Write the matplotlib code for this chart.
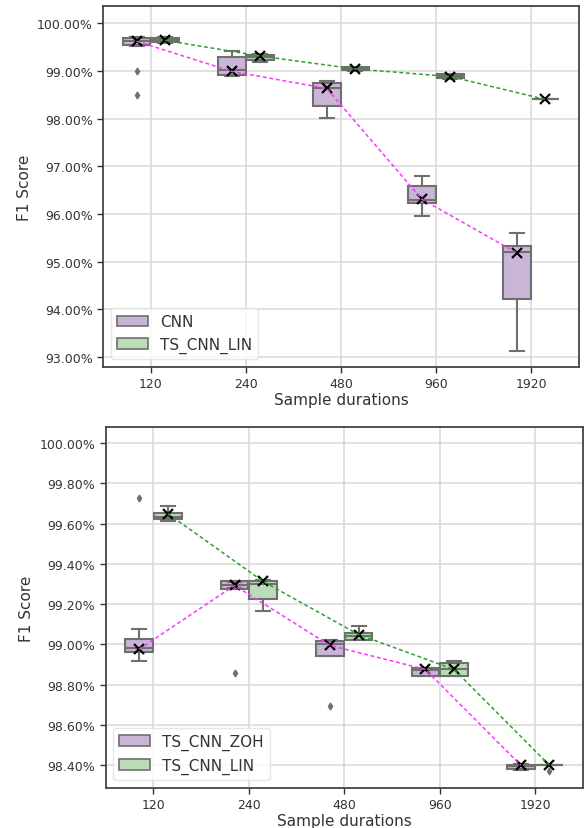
import matplotlib
matplotlib.use('Agg')
import matplotlib.pyplot as plt
from matplotlib.ticker import PercentFormatter, FixedLocator
from matplotlib.patches import Patch

durations = ['120', '240', '480', '960', '1920']

# ---- top chart: CNN vs TS_CNN_LIN (values in %)
top_names = ['CNN', 'TS_CNN_LIN']
cnn_q1 = [99.55, 98.91, 98.27, 96.24, 94.22]
cnn_med = [99.63, 99.02, 98.65, 96.30, 95.21]
cnn_q3 = [99.69, 99.28, 98.75, 96.58, 95.32]
cnn_lo = [99.53, 98.89, 98.01, 95.95, 93.12]
cnn_hi = [99.70, 99.41, 98.78, 96.79, 95.60]
cnn_mean = [99.62, 98.99, 98.63, 96.31, 95.18]
cnn_fliers = [[98.99, 98.49], [], [], [], []]

lin1_q1 = [99.60, 99.23, 99.01, 98.84, 98.40]
lin1_med = [99.64, 99.28, 99.05, 98.89, 98.41]
lin1_q3 = [99.69, 99.33, 99.08, 98.93, 98.42]
lin1_lo = [99.59, 99.18, 99.00, 98.83, 98.40]
lin1_hi = [99.70, 99.35, 99.09, 98.94, 98.42]
lin1_mean = [99.64, 99.31, 99.04, 98.88, 98.40]
lin1_fliers = [[], [], [], [], []]

# ---- bottom chart: TS_CNN_ZOH vs TS_CNN_LIN
bot_names = ['TS_CNN_ZOH', 'TS_CNN_LIN']
zoh_q1 = [98.960, 99.277, 98.944, 98.845, 98.379]
zoh_med = [98.980, 99.295, 99.000, 98.875, 98.395]
zoh_q3 = [99.025, 99.316, 99.017, 98.881, 98.403]
zoh_lo = [98.920, 99.280, 98.944, 98.845, 98.375]
zoh_hi = [99.077, 99.310, 99.020, 98.885, 98.405]
zoh_mean = [98.976, 99.293, 98.995, 98.876, 98.400]
zoh_fliers = [[99.725], [98.86], [98.695], [], []]

lin2_q1 = [99.623, 99.227, 99.024, 98.845, 98.400]
lin2_med = [99.635, 99.300, 99.040, 98.880, 98.400]
lin2_q3 = [99.653, 99.316, 99.057, 98.910, 98.403]
lin2_lo = [99.615, 99.164, 99.020, 98.845, 98.400]
lin2_hi = [99.690, 99.320, 99.093, 98.920, 98.403]
lin2_mean = [99.650, 99.313, 99.049, 98.876, 98.400]
lin2_fliers = [[], [], [], [], [98.37]]

top_yticks = [93, 94, 95, 96, 97, 98, 99, 100]
bot_yticks = [98.4, 98.6, 98.8, 99.0, 99.2, 99.4, 99.6, 99.8, 100.0]

PURPLE = '#c9b6d6'
GREEN = '#bcdcb7'
EDGE = '#6f6f6f'
LINE_COLORS = ['#ff33ff', '#2ca02c']


def stats(q1, med, q3, lo, hi, mean, fliers):
    return [dict(q1=a, med=b, q3=c, whislo=d, whishi=e, mean=f, fliers=g)
            for a, b, c, d, e, f, g in zip(q1, med, q3, lo, hi, mean, fliers)]


def draw(ax, series, names, yticks, ylim):
    offsets = [-0.15, 0.15]
    colors = [PURPLE, GREEN]
    handles = []
    for k, (st, name) in enumerate(zip(series, names)):
        pos = [i + offsets[k] for i in range(len(durations))]
        ax.bxp(st, positions=pos, widths=0.29, patch_artist=True,
               showmeans=False, manage_ticks=False,
               boxprops=dict(facecolor=colors[k], edgecolor=EDGE, linewidth=1.5),
               medianprops=dict(color=EDGE, linewidth=1.5),
               whiskerprops=dict(color=EDGE, linewidth=1.5),
               capprops=dict(color=EDGE, linewidth=1.5),
               flierprops=dict(marker='d', markersize=3.5, markerfacecolor=EDGE,
                               markeredgecolor=EDGE))
        means = [s['mean'] for s in st]
        ax.plot(pos, means, linestyle='none', marker='x', color='black',
                markersize=6.5, markeredgewidth=1.6, zorder=4)
        ax.plot(pos, means, linestyle=(0, (2.5, 1.8)), color=LINE_COLORS[k],
                linewidth=1.1, zorder=5)
        handles.append(Patch(facecolor=colors[k], edgecolor=EDGE, linewidth=1.2,
                             label=name))
    ax.set_xlim(-0.5, 4.5)
    ax.set_ylim(*ylim)
    ax.set_xticks(range(len(durations)))
    ax.set_xticklabels(durations)
    ax.yaxis.set_major_locator(FixedLocator(yticks))
    ax.yaxis.set_major_formatter(PercentFormatter(xmax=100, decimals=2))
    ax.grid(True, color='#d9d9d9', linewidth=1.1)
    ax.set_axisbelow(True)
    for sp in ax.spines.values():
        sp.set_color('#444444')
        sp.set_linewidth(1.3)
    ax.tick_params(labelsize=9, colors='#333333', length=4, width=1)
    ax.set_xlabel('Sample durations', fontsize=11, color='#333333', labelpad=1)
    ax.set_ylabel('F1 Score', fontsize=11, color='#333333')
    leg = ax.legend(handles=handles, loc='lower left', fontsize=11,
                    framealpha=0.8, edgecolor='#e0e0e0')
    for t in leg.get_texts():
        t.set_color('#333333')


fig = plt.figure(figsize=(5.84, 8.29), dpi=100)
ax1 = fig.add_axes([0.177, 0.556, 0.814, 0.4356])
ax2 = fig.add_axes([0.181, 0.0483, 0.817, 0.4354])

draw(ax1, [stats(cnn_q1, cnn_med, cnn_q3, cnn_lo, cnn_hi, cnn_mean, cnn_fliers),
           stats(lin1_q1, lin1_med, lin1_q3, lin1_lo, lin1_hi, lin1_mean, lin1_fliers)],
     top_names, top_yticks, (92.79, 100.36))
draw(ax2, [stats(zoh_q1, zoh_med, zoh_q3, zoh_lo, zoh_hi, zoh_mean, zoh_fliers),
           stats(lin2_q1, lin2_med, lin2_q3, lin2_lo, lin2_hi, lin2_mean, lin2_fliers)],
     bot_names, bot_yticks, (98.287, 100.08))

fig.savefig('out.png', dpi=100)
